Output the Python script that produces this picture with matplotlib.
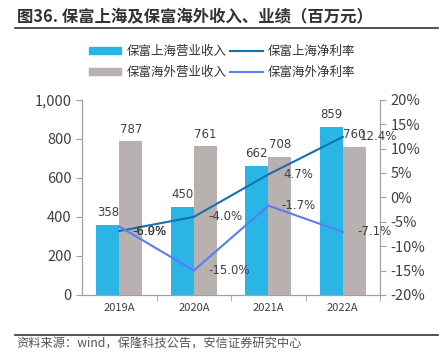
import numpy as np
import matplotlib.pyplot as plt
from matplotlib.patches import Patch
from matplotlib.lines import Line2D

plt.rcParams['font.family'] = ['Noto Sans CJK SC', 'DejaVu Sans']

#%%
years = ["2019A", "2020A", "2021A", "2022A"]
sh_rev = [358, 450, 662, 859]
os_rev = [787, 761, 708, 760]
sh_margin = [-6.9, -4.0, 4.7, 12.4]
os_margin = [-6.0, -15.0, -1.7, -7.1]

c_sh = "#29B6E6"
c_os = "#B9B1AF"
c_shl = "#1670B2"
c_osl = "#5A7DF5"
c_txt = "#404040"
c_ax = "#A0A0A0"

#%%
fig = plt.figure(figsize=(4.44, 3.54), dpi=100)
ax = fig.add_axes([0.185, 0.167, 0.671, 0.551])
ax2 = ax.twinx()

x = np.arange(len(years))
w = 0.31
ax.bar(x - w / 2, sh_rev, w, color=c_sh, zorder=2)
ax.bar(x + w / 2, os_rev, w, color=c_os, zorder=2)
for i in range(len(years)):
    ax.text(x[i] - w / 2, sh_rev[i] + 30, str(sh_rev[i]), ha="center", va="bottom",
            fontsize=8.5, color=c_txt, family="DejaVu Sans")
    ax.text(x[i] + w / 2, os_rev[i] + 30, str(os_rev[i]), ha="center", va="bottom",
            fontsize=8.5, color=c_txt, family="DejaVu Sans")

ax.set_xlim(-0.5, 3.5)
ax.set_ylim(0, 1000)
ax.set_yticks(range(0, 1001, 200))
ax.set_yticklabels(["0", "200", "400", "600", "800", "1,000"])
ax.set_xticks(x)
ax.set_xticklabels(years)
ax.set_xticks([0.5, 1.5, 2.5, 3.5], minor=True)
ax.tick_params(axis="x", which="major", length=0, pad=6, labelsize=8, colors=c_txt)
ax.tick_params(axis="x", which="minor", length=4, color=c_ax)
ax.tick_params(axis="y", length=4, color=c_ax, labelsize=10.5, labelcolor=c_txt)

ax2.plot(x, sh_margin, color=c_shl, lw=1.5, zorder=3)
ax2.plot(x, os_margin, color=c_osl, lw=1.5, zorder=3)
ax2.set_ylim(-20, 20)
ax2.set_yticks(range(-20, 21, 5))
ax2.set_yticklabels(["%d%%" % v for v in range(-20, 21, 5)])
ax2.tick_params(axis="y", length=4, color=c_ax, labelsize=10.5, labelcolor=c_txt)

# line labels sit to the right of each point
lab = dict(fontsize=8.5, color=c_txt, family="DejaVu Sans", ha="left", va="center")
dx_sh = [0.17, 0.19, 0.2, 0.22]
dx_os = [0.17, 0.19, 0.18, 0.2]
for i in range(len(years)):
    ax2.text(x[i] + dx_sh[i], sh_margin[i], "%.1f%%" % sh_margin[i], **lab)
    y_os = sh_margin[0] if i == 0 else os_margin[i]
    ax2.text(x[i] + dx_os[i], y_os, "%.1f%%" % os_margin[i], **lab)

for a in (ax, ax2):
    a.spines["top"].set_visible(False)
    for s in ("left", "right", "bottom"):
        a.spines[s].set_color(c_ax)

#%%
fig.text(0.038, 0.952, "图36. 保富上海及保富海外收入、业绩（百万元）", fontsize=11.8,
         fontweight="bold", color="#333333", va="center")
fig.add_artist(Line2D([0.034, 0.986], [0.921, 0.921], color="#333333", lw=1.2))
fig.add_artist(Line2D([0.034, 0.986], [0.054, 0.054], color="#333333", lw=1.2))
fig.text(0.038, 0.032, "资料来源：wind，保隆科技公告，安信证券研究中心", fontsize=8.8,
         style="italic", color="#555555", va="center")

handles = [Patch(color=c_sh), Patch(color=c_os),
           Line2D([], [], color=c_shl, lw=1.5), Line2D([], [], color=c_osl, lw=1.5)]
labels = ["保富上海营业收入", "保富海外营业收入", "保富上海净利率", "保富海外净利率"]
fig.legend(handles, labels, ncol=2, loc="center", bbox_to_anchor=(0.5, 0.825),
           frameon=False, fontsize=9, handlelength=2.6, handleheight=0.5,
           columnspacing=0.3, handletextpad=0.4, labelspacing=0.6,
           labelcolor="#333333")

fig.savefig("out.png", dpi=100)
